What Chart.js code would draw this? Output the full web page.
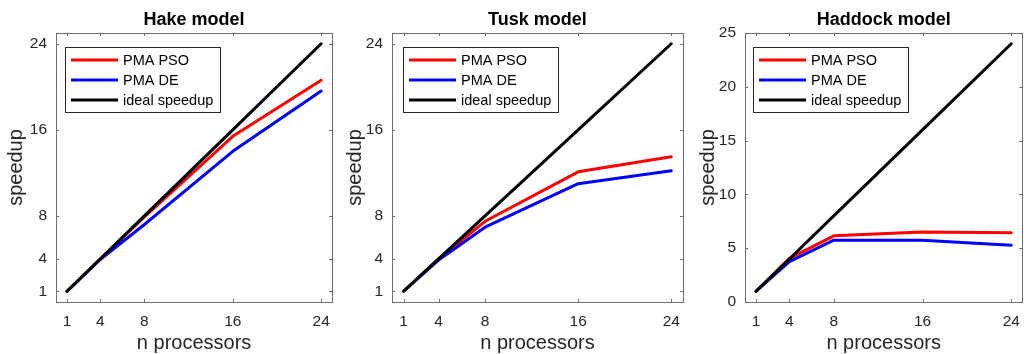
<!DOCTYPE html>
<html>
<head>
<meta charset="utf-8">
<script src="https://cdn.jsdelivr.net/npm/chart.js@4/dist/chart.umd.min.js"></script>
<style>
  html, body { margin: 0; padding: 0; background: #fff; overflow: hidden; width: 1024px; height: 354px; }
  .cw { position: absolute; top: 0; height: 354px; }
</style>
</head>
<body>
<div class="cw" style="left:0px;width:340px"><canvas id="c1" width="340" height="354"></canvas></div>
<div class="cw" style="left:340px;width:350px"><canvas id="c2" width="350" height="354"></canvas></div>
<div class="cw" style="left:690px;width:340px"><canvas id="c3" width="340" height="354"></canvas></div>
<script>
// ---- data ----
const processors = [1, 4, 8, 16, 24];
const xTickValues = [1, 4, 8, 16, 24];
const yTicksPowers = [1, 4, 8, 16, 24];
const yTicksFives = [0, 5, 10, 15, 20, 25];
const seriesNames = ['PMA PSO', 'PMA DE', 'ideal speedup'];
const idealSpeedup = [1, 4, 8, 16, 24];
const hakePSO = [1, 4, 7.9, 15.4, 20.6];
const hakeDE = [1, 3.95, 7.2, 14.0, 19.6];
const tuskPSO = [1, 4, 7.5, 12.1, 13.5];
const tuskDE = [1, 3.9, 6.95, 11.0, 12.2];
const haddockPSO = [1, 4.05, 6.15, 6.5, 6.43];
const haddockDE = [1, 3.75, 5.75, 5.75, 5.28];
const titles = ['Hake model', 'Tusk model', 'Haddock model'];

const FONT = '"Liberation Sans", Arial, Helvetica, sans-serif';
const AXIS_COLOR = '#6e6e6e';
const TEXT_COLOR = '#262626';
const colors = ['#ff0000', '#0000ff', '#000000'];

function pts(ys) { return processors.map((x, i) => ({ x: x, y: ys[i] })); }

const framePlugin = {
  id: 'frame',
  afterDatasetsDraw(chart, args, opts) {
    const ctx = chart.ctx;
    const a = chart.chartArea;
    const xs = chart.scales.x, ys = chart.scales.y;
    ctx.save();
    ctx.strokeStyle = AXIS_COLOR;
    ctx.lineWidth = 1;
    ctx.strokeRect(Math.round(a.left) + 0.5, Math.round(a.top) + 0.5, Math.round(a.right - a.left), Math.round(a.bottom - a.top));
    const tl = 3;
    ctx.beginPath();
    xs.ticks.forEach(t => {
      const px = Math.round(xs.getPixelForValue(t.value)) + 0.5;
      ctx.moveTo(px, a.bottom); ctx.lineTo(px, a.bottom - tl);
      ctx.moveTo(px, a.top); ctx.lineTo(px, a.top + tl);
    });
    ys.ticks.forEach(t => {
      const py = Math.round(ys.getPixelForValue(t.value)) + 0.5;
      ctx.moveTo(a.left, py); ctx.lineTo(a.left + tl, py);
      ctx.moveTo(a.right, py); ctx.lineTo(a.right - tl, py);
    });
    ctx.stroke();
    ctx.fillStyle = '#000';
    ctx.font = 'bold 18px ' + FONT;
    ctx.textAlign = 'center';
    ctx.textBaseline = 'middle';
    ctx.fillText(opts.title, (a.left + a.right) / 2, 20);
    const lx = a.left + opts.legendDx, ly = a.top + 14, lw = 155, lh = 65;
    ctx.fillStyle = '#fff';
    ctx.fillRect(lx, ly, lw, lh);
    ctx.strokeStyle = TEXT_COLOR;
    ctx.lineWidth = 1;
    ctx.strokeRect(Math.round(lx) + 0.5, Math.round(ly) + 0.5, lw, lh);
    ctx.font = '14.5px ' + FONT;
    ctx.textAlign = 'left';
    chart.data.datasets.forEach((ds, i) => {
      const yy = ly + 13 + i * 20;
      ctx.strokeStyle = ds.borderColor;
      ctx.lineWidth = 3;
      ctx.beginPath();
      ctx.moveTo(lx + 6, yy); ctx.lineTo(lx + 53, yy);
      ctx.stroke();
      ctx.fillStyle = '#000';
      ctx.fillText(ds.label, lx + 58, yy + 1);
    });
    ctx.restore();
  }
};

function makeChart(id, title, pso, de, yTicks, padL, padR, yTitlePad, legendDx) {
  const ctx = document.getElementById(id).getContext('2d');
  const seriesData = [pso, de, idealSpeedup];
  const orders = [3, 2, 1];
  return new Chart(ctx, {
    type: 'line',
    data: {
      datasets: seriesData.map((s, i) => ({
        label: seriesNames[i],
        data: pts(s),
        borderColor: colors[i],
        backgroundColor: colors[i],
        borderWidth: 3,
        pointRadius: 0,
        tension: 0,
        fill: false,
        order: orders[i],
        borderCapStyle: 'round',
        borderJoinStyle: 'round'
      }))
    },
    options: {
      responsive: false,
      animation: false,
      devicePixelRatio: 1,
      layout: { padding: { left: padL, right: padR, top: 33, bottom: 0 } },
      plugins: {
        legend: { display: false },
        title: { display: false },
        tooltip: { enabled: false },
        frame: { title: title, legendDx: legendDx }
      },
      scales: {
        x: {
          type: 'linear',
          min: 0, max: 25,
          afterBuildTicks: sc => { sc.ticks = xTickValues.map(v => ({ value: v })); },
          afterFit: sc => { sc.height = 52; },
          grid: { display: false, drawTicks: false },
          border: { display: true, color: AXIS_COLOR },
          ticks: { color: TEXT_COLOR, font: { family: FONT, size: 15.5 }, padding: 10, maxRotation: 0, autoSkip: false },
          title: { display: true, text: 'n processors', color: TEXT_COLOR, font: { family: FONT, size: 20, lineHeight: 1 }, padding: { top: 0, bottom: 1 } }
        },
        y: {
          type: 'linear',
          min: 0, max: 25,
          afterBuildTicks: sc => { sc.ticks = yTicks.map(v => ({ value: v })); },
          afterFit: sc => { sc.width = 50; },
          grid: { display: false, drawTicks: false },
          border: { display: true, color: AXIS_COLOR },
          ticks: { color: TEXT_COLOR, font: { family: FONT, size: 15.5 }, padding: 9, autoSkip: false },
          title: { display: true, text: 'speedup', color: TEXT_COLOR, font: { family: FONT, size: 20, lineHeight: 1 }, padding: { top: yTitlePad, bottom: 0 } }
        }
      }
    },
    plugins: [framePlugin]
  });
}

makeChart('c1', titles[0], hakePSO, hakeDE, yTicksPowers, 6, 6, 0, 9);
makeChart('c2', titles[1], tuskPSO, tuskDE, yTicksPowers, 2, 3, 3, 11);
makeChart('c3', titles[2], haddockPSO, haddockDE, yTicksFives, 5, 3, 3, 8);
</script>
</body>
</html>
